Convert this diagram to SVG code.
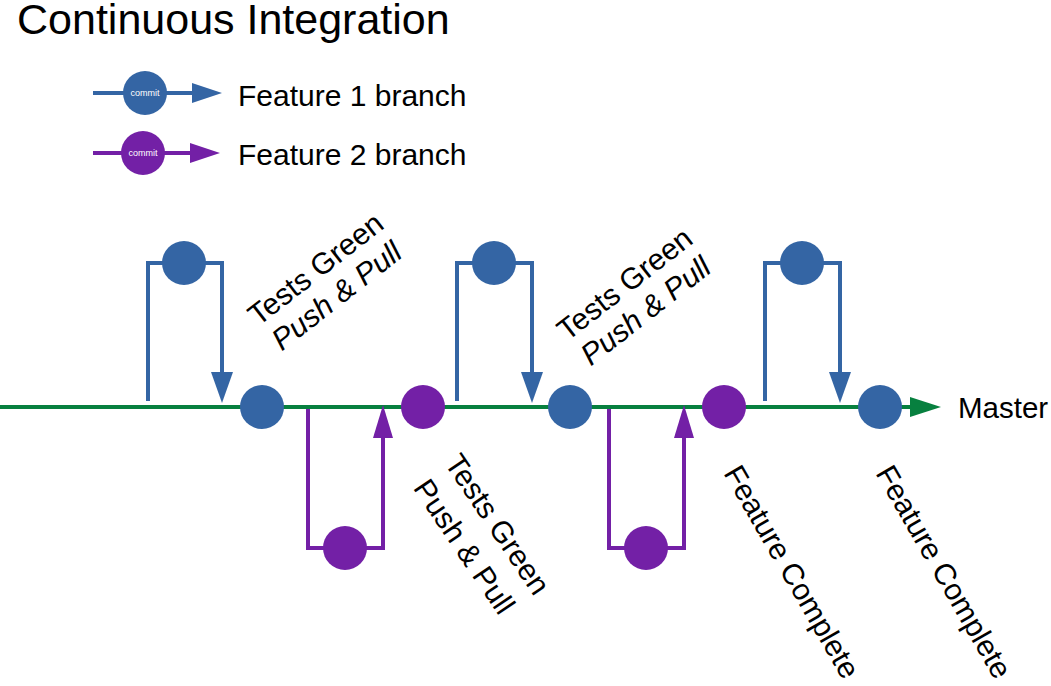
<svg xmlns="http://www.w3.org/2000/svg" width="1051" height="686" viewBox="0 0 1051 686">
<style>
.t{font-family:"Liberation Sans",Arial,sans-serif;fill:#000}
.b{stroke:#3465a4;stroke-width:4;fill:none}
.p{stroke:#7320a6;stroke-width:4;fill:none}
.g{stroke:#07803f;stroke-width:4;fill:none}
.bf{fill:#3465a4}
.pf{fill:#7320a6}
.gf{fill:#07803f}
.c{font-family:"Liberation Sans",Arial,sans-serif;font-size:9px;fill:#fff;text-anchor:middle}
</style>
<rect width="1051" height="686" fill="#fff"/>
<text class="t" x="17" y="34" font-size="43">Continuous Integration</text>
<g id="legend">
<g id="legend-f1">
<line class="b" x1="93" y1="93" x2="194" y2="93"/>
<polygon class="bf" points="192,83 222,93 192,103"/>
<circle class="bf" cx="145" cy="93" r="22"/>
<text class="c" x="145" y="96">commit</text>
<text class="t" x="238" y="106" font-size="30">Feature 1 branch</text>
</g>
<g id="legend-f2">
<line class="p" x1="93" y1="153" x2="192" y2="153"/>
<polygon class="pf" points="190,143 220,153 190,163"/>
<circle class="pf" cx="143" cy="153" r="22"/>
<text class="c" x="143" y="156">commit</text>
<text class="t" x="238" y="165" font-size="30">Feature 2 branch</text>
</g>
</g>
<g id="connectors">
<line class="g" x1="0" y1="407" x2="912" y2="407"/>
<polygon class="gf" points="910,397 941,407 910,417"/>
<polyline class="b" points="148,401 148,263 222,263 222,380"/>
<polygon class="bf" points="211,372 233,372 222,403"/>
<polyline class="b" points="457,401 457,263 532,263 532,380"/>
<polygon class="bf" points="521,372 543,372 532,403"/>
<polyline class="b" points="765,401 765,263 840,263 840,380"/>
<polygon class="bf" points="829,372 851,372 840,403"/>
<polyline class="p" points="308,409 308,548 383,548 383,430"/>
<polygon class="pf" points="373,438 393,438 383,405"/>
<polyline class="p" points="609,409 609,548 684,548 684,430"/>
<polygon class="pf" points="674,438 694,438 684,405"/>
</g>
<g id="f1-commit-1"><circle class="bf" cx="184" cy="263" r="22"/></g>
<g id="f1-commit-2"><circle class="bf" cx="494" cy="263" r="22"/></g>
<g id="f1-commit-3"><circle class="bf" cx="802" cy="263" r="22"/></g>
<g id="f2-commit-1"><circle class="pf" cx="345" cy="548" r="22"/></g>
<g id="f2-commit-2"><circle class="pf" cx="646" cy="548" r="22"/></g>
<g id="master-1"><circle class="bf" cx="262" cy="407" r="22"/></g>
<g id="master-2"><circle class="pf" cx="423" cy="407" r="22"/></g>
<g id="master-3"><circle class="bf" cx="570" cy="407" r="22"/></g>
<g id="master-4"><circle class="pf" cx="724" cy="407" r="22"/></g>
<g id="master-5"><circle class="bf" cx="880" cy="407" r="22"/></g>
<text class="t" x="958" y="418" font-size="29.5">Master</text>
<g id="label-1">
<text class="t" font-size="30" text-anchor="middle" transform="translate(322,277) rotate(-38)"><tspan x="0" y="0">Tests Green</tspan><tspan x="0" y="34" font-style="italic">Push &amp; Pull</tspan></text>
</g>
<g id="label-2">
<text class="t" font-size="30" text-anchor="middle" transform="translate(631,292) rotate(-38)"><tspan x="0" y="0">Tests Green</tspan><tspan x="0" y="34" font-style="italic">Push &amp; Pull</tspan></text>
</g>
<g id="label-3">
<text class="t" font-size="30" text-anchor="middle" transform="translate(489,530) rotate(56)"><tspan x="0" y="0">Tests Green</tspan><tspan x="0" y="40">Push &amp; Pull</tspan></text>
</g>
<g id="label-4">
<text class="t" font-size="30" text-anchor="middle" transform="translate(783,577) rotate(60)">Feature Complete</text>
</g>
<g id="label-5">
<text class="t" font-size="30" text-anchor="middle" transform="translate(935,577) rotate(60)">Feature Complete</text>
</g>
</svg>
